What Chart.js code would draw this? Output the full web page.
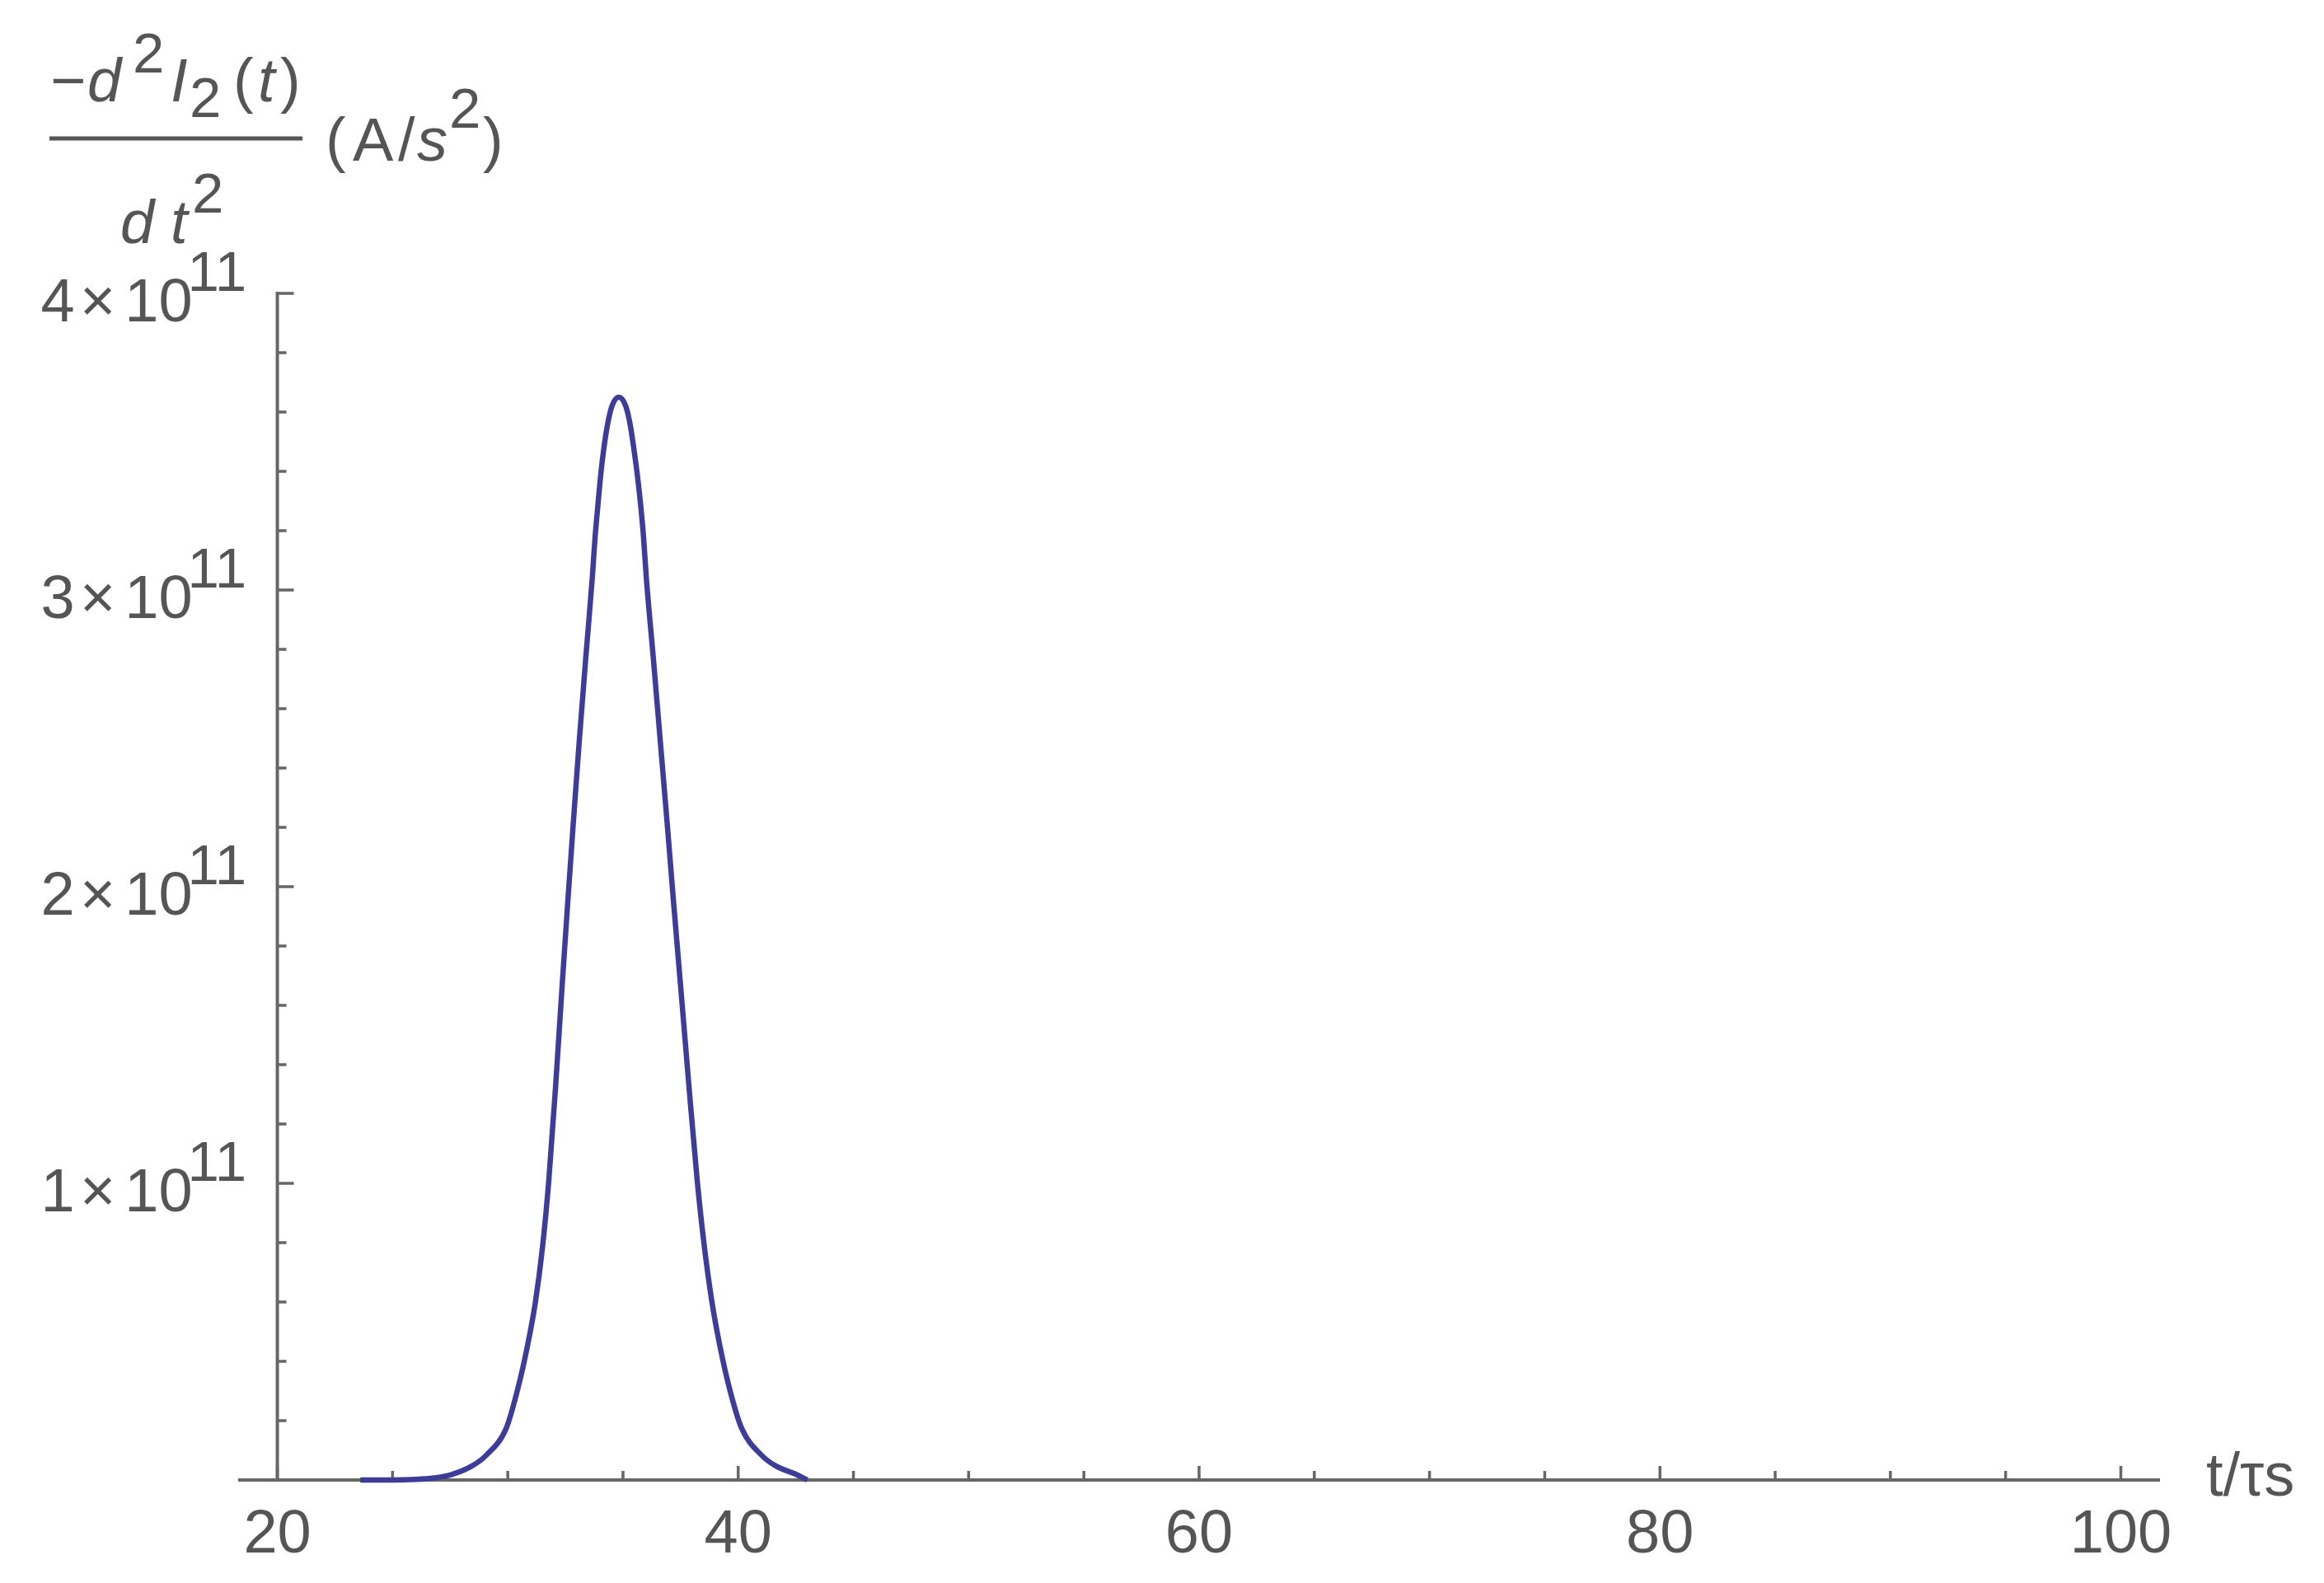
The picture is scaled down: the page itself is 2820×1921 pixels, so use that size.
<!DOCTYPE html>
<html>
<head>
<meta charset="utf-8">
<script src="https://cdn.jsdelivr.net/npm/chart.js@4.4.1/dist/chart.umd.min.js"></script>
<style>
  html, body { margin: 0; padding: 0; background: #fff; }
  #chart { display: block; }
</style>
</head>
<body>
<canvas id="chart" width="2820" height="1921"></canvas>
<script>
// curve: t/τs and -d²I₂/dt² (A/s²)
const tValues = [
  23.6, 25.0, 26.0, 26.8, 27.54, 28.42, 29.06, 29.94, 30.43, 30.86, 31.2, 31.51,
  31.78, 32.07, 32.35, 32.59, 32.84, 33.1, 33.38, 33.67, 33.79, 33.9, 34.01,
  34.14, 34.32, 34.52, 34.82, 35.12, 35.32, 35.5, 35.65, 35.78, 35.89, 36.01,
  36.32, 36.62, 36.92, 37.21, 37.51, 37.87, 38.22, 38.53, 38.86, 39.2, 39.63,
  40.14, 41.02, 41.66, 42.54, 43.0
]
const d2iValues = [
  0, 0, 0.002e11, 0.007e11, 0.018e11, 0.046e11, 0.083e11, 0.176e11, 0.306e11,
  0.454e11, 0.60e11, 0.787e11, 1.01e11, 1.32e11, 1.656e11, 1.933e11, 2.211e11,
  2.489e11, 2.767e11, 3.044e11, 3.18e11, 3.276e11, 3.37e11, 3.46e11, 3.554e11,
  3.62e11, 3.65e11, 3.62e11, 3.554e11, 3.46e11, 3.37e11, 3.276e11, 3.18e11,
  3.044e11, 2.767e11, 2.489e11, 2.211e11, 1.933e11, 1.656e11, 1.32e11, 1.01e11,
  0.787e11, 0.60e11, 0.454e11, 0.306e11, 0.176e11, 0.083e11, 0.046e11, 0.018e11, 0
]

const xRange = [18.3, 101.7]
const yRange = [0, 4e11]
const xOrigin = 20
const xMajorTicks = [20, 40, 60, 80, 100]
const xMinorTicks = [25, 30, 35, 45, 50, 55, 65, 70, 75, 85, 90, 95]
const yMajorTicks = [1e11, 2e11, 3e11, 4e11]
const yMinorTicks = [
  0.2e11, 0.4e11, 0.6e11, 0.8e11, 1.2e11, 1.4e11, 1.6e11, 1.8e11,
  2.2e11, 2.4e11, 2.6e11, 2.8e11, 3.2e11, 3.4e11, 3.6e11, 3.8e11
]
const xTickLabels = ['20', '40', '60', '80', '100']
const yTickMantissa = ['1', '2', '3', '4']
const yTickExponent = '11'
const xTitle = 't/τs'

const textColor = '#555555'
const axisColor = '#666666'
const lineColor = '#3d3d99'
const fam = '"Liberation Sans", Arial, sans-serif'
const big = 74
const small = 69

function txt(ctx, s, x, y, size, italic) {
  ctx.font = (italic ? 'italic ' : '') + size + 'px ' + fam
  ctx.fillText(s, x, y)
}

const mmaAxes = {
  id: 'mmaAxes',
  beforeDatasetsDraw(chart) {
    const { ctx, chartArea, scales: { x, y } } = chart
    const x0 = x.getPixelForValue(xOrigin)
    const y0 = y.getPixelForValue(0)
    ctx.save()
    ctx.strokeStyle = axisColor
    ctx.lineWidth = 4
    ctx.beginPath()
    ctx.moveTo(chartArea.left, y0)
    ctx.lineTo(chartArea.right, y0)
    ctx.moveTo(x0, y0)
    ctx.lineTo(x0, y.getPixelForValue(yRange[1]) - 2)
    ctx.stroke()

    ctx.lineWidth = 3.5
    ctx.beginPath()
    xMajorTicks.forEach(v => {
      const px = x.getPixelForValue(v)
      ctx.moveTo(px, y0); ctx.lineTo(px, y0 - 17)
    })
    xMinorTicks.forEach(v => {
      const px = x.getPixelForValue(v)
      ctx.moveTo(px, y0); ctx.lineTo(px, y0 - 11)
    })
    yMajorTicks.forEach(v => {
      const py = y.getPixelForValue(v)
      ctx.moveTo(x0, py); ctx.lineTo(x0 + 20, py)
    })
    yMinorTicks.forEach(v => {
      const py = y.getPixelForValue(v)
      ctx.moveTo(x0, py); ctx.lineTo(x0 + 11, py)
    })
    ctx.stroke()
    ctx.restore()
  },
  afterDraw(chart) {
    const { ctx, scales: { x, y } } = chart
    const x0 = x.getPixelForValue(xOrigin)
    const y0 = y.getPixelForValue(0)
    ctx.save()
    ctx.fillStyle = textColor
    ctx.textBaseline = 'alphabetic'

    // x tick labels
    ctx.textAlign = 'center'
    xMajorTicks.forEach((v, i) => {
      txt(ctx, xTickLabels[i], x.getPixelForValue(v), y0 + 88, big)
    })

    // y tick labels  N×10^11
    yMajorTicks.forEach((v, i) => {
      const py = y.getPixelForValue(v)
      ctx.textAlign = 'right'
      txt(ctx, yTickMantissa[i], x0 - 246, py + 34, big)
      ctx.textAlign = 'center'
      txt(ctx, '×', x0 - 218, py + 34, big)
      ctx.textAlign = 'right'
      txt(ctx, '10', x0 - 103, py + 34, big)
      ctx.textAlign = 'left'
      txt(ctx, yTickExponent, x0 - 109, py - 3, small)
    })

    // x axis title
    ctx.textAlign = 'left'
    txt(ctx, xTitle, 2677, y0 + 19, big)

    // y axis title: -d²I₂(t)/dt² (A/s²)
    txt(ctx, '−', 61, 123, big)
    txt(ctx, 'd', 106, 123, big, true)
    txt(ctx, '2', 161, 88, small)
    txt(ctx, 'I', 207, 123, big, true)
    txt(ctx, '2', 230, 142, small)
    txt(ctx, '(', 283, 123, big)
    txt(ctx, 't', 313, 123, big, true)
    txt(ctx, ')', 340, 123, big)
    ctx.fillRect(60, 165.5, 307, 5)
    txt(ctx, 'd', 146, 295, big, true)
    txt(ctx, 't', 207, 295, big, true)
    txt(ctx, '2', 233, 258, small)
    txt(ctx, '(', 395, 195, big)
    txt(ctx, 'A', 428, 195, big)
    txt(ctx, '/', 483, 195, big)
    txt(ctx, 's', 506, 195, big, true)
    txt(ctx, '2', 545, 155, small)
    txt(ctx, ')', 586, 195, big)
    ctx.restore()
  }
}

const ctx = document.getElementById('chart').getContext('2d')

new Chart(ctx, {
  type: 'line',
  data: {
    datasets: [{
      data: tValues.map((t, i) => ({ x: t, y: d2iValues[i] })),
      borderColor: lineColor,
      borderWidth: 6.5,
      pointRadius: 0,
      fill: false,
      cubicInterpolationMode: 'monotone',
      clip: false
    }]
  },
  options: {
    responsive: false,
    animation: false,
    devicePixelRatio: 1,
    layout: { padding: { left: 289, right: 199, top: 356, bottom: 125 } },
    plugins: { legend: { display: false }, tooltip: { enabled: false } },
    scales: {
      x: { type: 'linear', display: false, min: xRange[0], max: xRange[1] },
      y: { type: 'linear', display: false, min: yRange[0], max: yRange[1] }
    }
  },
  plugins: [mmaAxes]
})
</script>
</body>
</html>
